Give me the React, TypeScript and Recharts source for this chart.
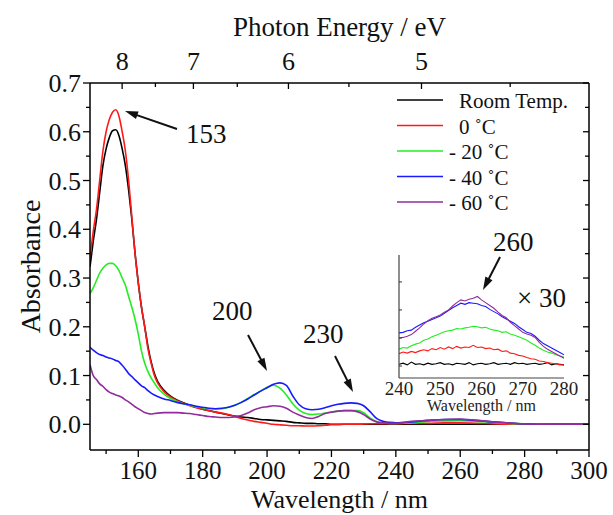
import React from 'react';
import { LineChart, Line, XAxis, YAxis } from 'recharts';

const SERIF = '"Liberation Serif", Tinos, "Times New Roman", "DejaVu Serif", serif';

// ---------- main spectrum data ----------
const WAVELENGTH = [
  145, 146, 147, 148, 149, 150, 151, 152, 153, 154, 155, 156, 157, 158, 159, 160, 161, 162, 163, 164, 165, 166,
  168, 170, 172, 174, 176, 178, 180, 182, 184, 186, 188, 190, 192, 194, 196, 198, 200, 202, 204, 206, 208, 210,
  212, 214, 216, 218, 220, 222, 224, 226, 228, 230, 232, 234, 236, 238, 240,
  245, 250, 255, 260, 265, 270, 275, 280, 285, 290, 295, 300,
];

const ROOM_TEMP = [
  0.323, 0.375, 0.42, 0.475, 0.53, 0.565, 0.588, 0.602, 0.604, 0.592, 0.565, 0.53, 0.48, 0.42, 0.35, 0.29, 0.24, 0.2, 0.16, 0.128, 0.104, 0.088,
  0.07, 0.058, 0.05, 0.044, 0.039, 0.035, 0.031, 0.028, 0.025, 0.022, 0.019, 0.017, 0.015, 0.014, 0.012, 0.01, 0.009, 0.008, 0.007, 0.006, 0.004, 0.003,
  0.002, 0.002, 0.001, 0.001, 0, 0, 0, 0, 0, 0, 0, 0, 0, 0, 0,
  0, 0, 0, 0, 0, 0, 0, 0, 0, 0, 0, 0,
];

const T_0C = [
  0.343, 0.395, 0.44, 0.5, 0.56, 0.6, 0.625, 0.64, 0.645, 0.632, 0.6, 0.56, 0.5, 0.425, 0.35, 0.29, 0.24, 0.2, 0.155, 0.125, 0.1, 0.085,
  0.067, 0.056, 0.049, 0.043, 0.038, 0.034, 0.031, 0.028, 0.025, 0.023, 0.02, 0.016, 0.012, 0.009, 0.006, 0.004, 0.002, 0, -0.001, -0.002, -0.003, -0.003,
  -0.0035, -0.0035, -0.003, -0.002, -0.001, -0.001, 0, 0, 0, 0.0005, 0.001, 0.001, 0.001, 0.001, 0.001,
  0.002, 0.002, 0.003, 0.003, 0.002, 0.001, 0, 0, 0, 0, 0, 0,
];

const T_M20C = [
  0.268, 0.28, 0.295, 0.31, 0.32, 0.327, 0.33, 0.33, 0.325, 0.315, 0.3, 0.285, 0.262, 0.24, 0.215, 0.185, 0.15, 0.125, 0.108, 0.095, 0.085, 0.075,
  0.062, 0.053, 0.047, 0.042, 0.039, 0.036, 0.034, 0.032, 0.031, 0.032, 0.035, 0.039, 0.045, 0.053, 0.061, 0.068, 0.076, 0.08, 0.074, 0.06, 0.042, 0.029,
  0.022, 0.02, 0.021, 0.023, 0.025, 0.027, 0.028, 0.028, 0.028, 0.024, 0.013, 0.006, 0.003, 0.002, 0.002,
  0.003, 0.006, 0.007, 0.0075, 0.006, 0.004, 0.002, 0.001, 0.0005, 0, 0, 0,
];

const T_M40C = [
  0.158, 0.152, 0.147, 0.143, 0.141, 0.138, 0.136, 0.134, 0.131, 0.128, 0.121, 0.113, 0.104, 0.098, 0.091, 0.085, 0.079, 0.075, 0.069, 0.064, 0.06, 0.057,
  0.052, 0.049, 0.045, 0.042, 0.04, 0.037, 0.035, 0.033, 0.032, 0.033, 0.035, 0.039, 0.045, 0.052, 0.06, 0.068, 0.075, 0.082, 0.085, 0.08, 0.058, 0.04,
  0.032, 0.03, 0.031, 0.034, 0.038, 0.041, 0.043, 0.044, 0.043, 0.038, 0.026, 0.012, 0.006, 0.004, 0.003,
  0.005, 0.008, 0.01, 0.01, 0.008, 0.005, 0.003, 0.001, 0, 0, 0, 0,
];

const T_M60C = [
  0.122, 0.1, 0.092, 0.083, 0.078, 0.071, 0.066, 0.063, 0.06, 0.058, 0.055, 0.05, 0.046, 0.041, 0.036, 0.032, 0.028, 0.024, 0.022, 0.021, 0.022, 0.023,
  0.024, 0.024, 0.024, 0.023, 0.022, 0.02, 0.018, 0.016, 0.015, 0.014, 0.014, 0.015, 0.018, 0.023, 0.03, 0.034, 0.036, 0.038, 0.037, 0.033, 0.025, 0.019,
  0.014, 0.012, 0.016, 0.022, 0.025, 0.027, 0.028, 0.028, 0.026, 0.02, 0.011, 0.005, 0.003, 0.002, 0.002,
  0.006, 0.008, 0.01, 0.011, 0.008, 0.005, 0.003, 0.001, 0, 0, 0, 0,
];

// ---------- inset (x30) data ----------
const INSET_WAVELENGTH = [
  240, 241, 242, 243, 244, 245, 246, 247, 248, 249, 250, 251, 252, 253, 254, 255, 256, 257, 258, 259, 260,
  261, 262, 263, 264, 265, 266, 267, 268, 269, 270, 271, 272, 273, 274, 275, 276, 277, 278, 279, 280,
];
const INSET_ROOM = [
  0.003, 0.005, 0.002, 0.007, 0.003, 0.004, 0.002, 0.005, 0.003, 0.004, 0.006, 0.003, 0.004, 0.002, 0.005, 0.004, 0.003, 0.006, 0.002, 0.004, 0.005,
  0.003, 0.004, 0.006, 0.003, 0.004, 0.005, 0.003, 0.006, 0.004, 0.005, 0.003, 0.004, 0.005, 0.003, 0.004, 0.006, 0.002, 0.004, 0.003, 0.002,
];
const INSET_0C = [
  0.022, 0.025, 0.023, 0.026, 0.024, 0.027, 0.029, 0.027, 0.031, 0.029, 0.033, 0.03, 0.034, 0.031, 0.035, 0.032, 0.034, 0.033, 0.037, 0.033, 0.034,
  0.031, 0.032, 0.029, 0.03, 0.026, 0.027, 0.023, 0.022, 0.019, 0.018, 0.015, 0.013, 0.012, 0.009, 0.008, 0.006, 0.005, 0.004, 0.002, 0.002,
];
const INSET_M20C = [
  0.03, 0.033, 0.032, 0.036, 0.039, 0.041, 0.046, 0.048, 0.052, 0.055, 0.058, 0.061, 0.063, 0.064, 0.067, 0.066, 0.068, 0.069, 0.071, 0.07, 0.068,
  0.069, 0.066, 0.064, 0.063, 0.06, 0.061, 0.057, 0.055, 0.052, 0.049, 0.046, 0.041, 0.037, 0.032, 0.028, 0.025, 0.023, 0.02, 0.018, 0.016,
];
const INSET_M40C = [
  0.059, 0.06, 0.063, 0.064, 0.069, 0.073, 0.077, 0.08, 0.083, 0.086, 0.089, 0.094, 0.099, 0.104, 0.108, 0.112, 0.11, 0.113, 0.112, 0.111, 0.108,
  0.106, 0.101, 0.097, 0.093, 0.088, 0.084, 0.08, 0.076, 0.07, 0.065, 0.06, 0.058, 0.053, 0.046, 0.04, 0.036, 0.032, 0.028, 0.024, 0.02,
];
const INSET_M60C = [
  0.05, 0.051, 0.053, 0.056, 0.062, 0.068, 0.075, 0.081, 0.085, 0.088, 0.091, 0.096, 0.1, 0.107, 0.113, 0.118, 0.116, 0.119, 0.121, 0.124, 0.118,
  0.113, 0.108, 0.103, 0.096, 0.09, 0.086, 0.078, 0.072, 0.066, 0.06, 0.057, 0.055, 0.051, 0.042, 0.035, 0.03, 0.026, 0.022, 0.018, 0.014,
];

// ---------- axes ----------
const WL_MAJOR_TICKS = [160, 180, 200, 220, 240, 260, 280, 300];
const WL_MINOR_TICKS = [150, 170, 190, 210, 230, 250, 270, 290];
const ABS_MAJOR_TICKS = [0, 0.1, 0.2, 0.3, 0.4, 0.5, 0.6, 0.7];
const ABS_MINOR_TICKS = [0.05, 0.15, 0.25, 0.35, 0.45, 0.55, 0.65];
const EV_MAJOR_TICKS = [8, 7, 6, 5];
const EV_MINOR_TICKS = [7.5, 6.5, 5.5, 4.5];
const INSET_WL_TICKS = [240, 250, 260, 270, 280];
const INSET_Y_TICKS = [0, 0.05, 0.1, 0.15];

const HC = 1239.84; // eV·nm
const WL_DOMAIN: [number, number] = [145, 300];
const ABS_DOMAIN: [number, number] = [-0.0527, 0.7];
const INSET_Y_DOMAIN: [number, number] = [-0.0214, 0.198];

const SERIES = [
  { key: 'room', name: 'Room Temp.', color: '#000000', values: ROOM_TEMP, inset: INSET_ROOM },
  { key: 't0', name: '0 ˚C', color: '#ff1a1a', values: T_0C, inset: INSET_0C },
  { key: 't20', name: '- 20 ˚C', color: '#22ee22', values: T_M20C, inset: INSET_M20C },
  { key: 't40', name: '- 40 ˚C', color: '#1a1aff', values: T_M40C, inset: INSET_M40C },
  { key: 't60', name: '- 60 ˚C', color: '#922c9e', values: T_M60C, inset: INSET_M60C },
];

const mainData = WAVELENGTH.map((wl, i) => {
  const row: Record<string, number> = { wl };
  SERIES.forEach((s) => (row[s.key] = s.values[i]));
  return row;
});
const insetData = INSET_WAVELENGTH.map((wl, i) => {
  const row: Record<string, number> = { wl };
  SERIES.forEach((s) => (row[s.key] = s.inset[i]));
  return row;
});

const ANNOTATIONS = [
  { label: '153', tx: 186, ty: 143, from: [177, 129], to: [125, 111] },
  { label: '200', tx: 212, ty: 320, from: [248, 335], to: [267, 371] },
  { label: '230', tx: 303, ty: 343, from: [335, 356], to: [353, 392] },
  { label: '260', tx: 493, ty: 251, from: [500, 257], to: [483, 290] },
];

const textStyle = (size: number): React.CSSProperties => ({ fontFamily: SERIF, fontSize: size });

const isMajor = (v: number, list: number[]) => list.some((m) => Math.abs(m - v) < 1e-6);

const BottomTick = (props: any) => {
  const { x, y, payload } = props;
  const major = isMajor(payload.value, WL_MAJOR_TICKS);
  return (
    <g>
      <line x1={x} x2={x} y1={y} y2={y + (major ? 7 : 4)} stroke="#000" strokeWidth={1.3} />
      {major && (
        <text x={x} y={y + 29} textAnchor="middle" style={textStyle(25)} fill="#111">
          {payload.value}
        </text>
      )}
    </g>
  );
};

const TopTick = (props: any) => {
  const { x, y, payload } = props;
  const ev = HC / payload.value;
  const major = EV_MAJOR_TICKS.some((e) => Math.abs(e - ev) < 1e-3);
  return (
    <g>
      <line x1={x} x2={x} y1={y} y2={y + (major ? 6 : 4)} stroke="#000" strokeWidth={1.3} />
      {major && (
        <text x={x} y={y - 13} textAnchor="middle" style={textStyle(26)} fill="#111">
          {Math.round(ev)}
        </text>
      )}
    </g>
  );
};

const LeftTick = (props: any) => {
  const { x, y, payload } = props;
  const major = isMajor(payload.value, ABS_MAJOR_TICKS);
  return (
    <g>
      <line x1={x - (major ? 7 : 4)} x2={x} y1={y} y2={y} stroke="#000" strokeWidth={1.3} />
      {major && (
        <text x={x - 9} y={y} dy="0.35em" textAnchor="end" style={textStyle(26)} fill="#111">
          {payload.value.toFixed(1)}
        </text>
      )}
    </g>
  );
};

const RightTick = (props: any) => {
  const { x, y, payload } = props;
  const major = isMajor(payload.value, ABS_MAJOR_TICKS);
  return <line x1={x} x2={x - (major ? 6 : 4)} y1={y} y2={y} stroke="#000" strokeWidth={1.3} />;
};

const InsetBottomTick = (props: any) => {
  const { x, y, payload } = props;
  return (
    <text x={x} y={y + 17} textAnchor="middle" style={textStyle(19)} fill="#222">
      {payload.value}
    </text>
  );
};

const InsetLeftTick = (props: any) => {
  const { x, y } = props;
  return <line x1={x} x2={x + 3} y1={y} y2={y} stroke="#333" strokeWidth={1} />;
};

function arrowHead(from: number[], to: number[], len = 13, half = 4) {
  const dx = to[0] - from[0];
  const dy = to[1] - from[1];
  const L = Math.hypot(dx, dy);
  const ux = dx / L;
  const uy = dy / L;
  const bx = to[0] - ux * len;
  const by = to[1] - uy * len;
  return {
    base: [bx + ux * 2, by + uy * 2],
    points: `${to[0]},${to[1]} ${bx - uy * half},${by + ux * half} ${bx + uy * half},${by - ux * half}`,
  };
}

export default function App() {
  const allWlTicks = [...WL_MINOR_TICKS, ...WL_MAJOR_TICKS].sort((a, b) => a - b);
  const allAbsTicks = [...ABS_MINOR_TICKS, ...ABS_MAJOR_TICKS].sort((a, b) => a - b);
  const evTicks = [...EV_MAJOR_TICKS, ...EV_MINOR_TICKS].map((e) => HC / e).sort((a, b) => a - b);

  return (
    <div style={{ position: 'absolute', left: 0, top: 0, width: 613, height: 515, background: '#fff', overflow: 'hidden', fontFamily: SERIF }}>
      <LineChart width={613} height={515} data={mainData} margin={{ top: 0, right: 0, bottom: 0, left: 0 }}>
        <XAxis
          xAxisId="bottom"
          dataKey="wl"
          type="number"
          domain={WL_DOMAIN}
          allowDataOverflow
          ticks={allWlTicks}
          interval={0}
          height={65}
          tickSize={0}
          tickMargin={0}
          tickLine={false}
          tick={<BottomTick />}
          axisLine={{ stroke: '#000', strokeWidth: 1.5 }}
          label={{ value: 'Wavelength / nm', position: 'insideBottom', offset: 7, fill: '#111', style: textStyle(26) }}
        />
        <XAxis
          xAxisId="top"
          orientation="top"
          dataKey="wl"
          type="number"
          domain={WL_DOMAIN}
          allowDataOverflow
          ticks={evTicks}
          interval={0}
          height={83}
          tickSize={0}
          tickMargin={0}
          tickLine={false}
          tick={<TopTick />}
          axisLine={{ stroke: '#000', strokeWidth: 1.5 }}
          label={{ value: 'Photon Energy / eV', position: 'insideTop', offset: 17, fill: '#111', style: textStyle(27) }}
        />
        <YAxis
          yAxisId="left"
          type="number"
          domain={ABS_DOMAIN}
          allowDataOverflow
          ticks={allAbsTicks}
          interval={0}
          width={90}
          tickSize={0}
          tickMargin={0}
          tickLine={false}
          tick={<LeftTick />}
          axisLine={{ stroke: '#000', strokeWidth: 1.5 }}
          label={{
            value: 'Absorbance',
            angle: -90,
            position: 'insideLeft',
            offset: 30,
            fill: '#111',
            style: { ...textStyle(28), textAnchor: 'middle' },
          }}
        />
        <YAxis
          yAxisId="right"
          orientation="right"
          type="number"
          domain={ABS_DOMAIN}
          allowDataOverflow
          ticks={allAbsTicks}
          interval={0}
          width={24}
          tickSize={0}
          tickMargin={0}
          tickLine={false}
          tick={<RightTick />}
          axisLine={{ stroke: '#000', strokeWidth: 1.5 }}
        />
        {SERIES.map((s) => (
          <Line
            key={s.key}
            xAxisId="bottom"
            yAxisId="left"
            dataKey={s.key}
            name={s.name}
            stroke={s.color}
            strokeWidth={1.6}
            dot={false}
            type="monotone"
            isAnimationActive={false}
          />
        ))}
      </LineChart>

      <div style={{ position: 'absolute', left: 360, top: 240, width: 220, height: 180 }}>
        <LineChart width={220} height={180} data={insetData} margin={{ top: 15, right: 16, bottom: 0, left: 0 }}>
          <XAxis
            dataKey="wl"
            type="number"
            domain={[240, 280]}
            allowDataOverflow
            ticks={INSET_WL_TICKS}
            interval={0}
            height={42}
            tickSize={0}
            tickMargin={0}
            tickLine={false}
            tick={<InsetBottomTick />}
            axisLine={{ stroke: '#444', strokeWidth: 1.2 }}
            label={{ value: 'Wavelength / nm', position: 'insideBottom', offset: 9, fill: '#222', style: textStyle(16) }}
          />
          <YAxis
            type="number"
            domain={INSET_Y_DOMAIN}
            allowDataOverflow
            ticks={INSET_Y_TICKS}
            interval={0}
            width={39}
            tickSize={0}
            tickMargin={0}
            tickLine={false}
            tick={<InsetLeftTick />}
            axisLine={{ stroke: '#444', strokeWidth: 1.2 }}
          />
          {SERIES.map((s) => (
            <Line
              key={s.key}
              dataKey={s.key}
              stroke={s.color}
              strokeWidth={1.1}
              dot={false}
              type="linear"
              isAnimationActive={false}
            />
          ))}
        </LineChart>
      </div>

      <svg width={613} height={515} style={{ position: 'absolute', left: 0, top: 0, pointerEvents: 'none' }}>
        {/* legend */}
        {SERIES.map((s, i) => {
          const cy = 100 + i * 25.5;
          const dash = s.name.startsWith('-');
          return (
            <g key={s.key}>
              <line x1={397} x2={443} y1={cy} y2={cy} stroke={s.color} strokeWidth={1.6} />
              <text x={dash ? 449 : 459} y={cy + 8} style={textStyle(21)} fill="#111">
                {s.name}
              </text>
            </g>
          );
        })}
        {/* annotations */}
        {ANNOTATIONS.map((a) => {
          const h = arrowHead(a.from, a.to);
          return (
            <g key={a.label}>
              <text x={a.tx} y={a.ty} style={textStyle(27)} fill="#111">
                {a.label}
              </text>
              <line x1={a.from[0]} y1={a.from[1]} x2={h.base[0]} y2={h.base[1]} stroke="#111" strokeWidth={2} />
              <polygon points={h.points} fill="#111" />
            </g>
          );
        })}
        <text x={517} y={307} style={textStyle(27)} fill="#111">
          × 30
        </text>
      </svg>
    </div>
  );
}
